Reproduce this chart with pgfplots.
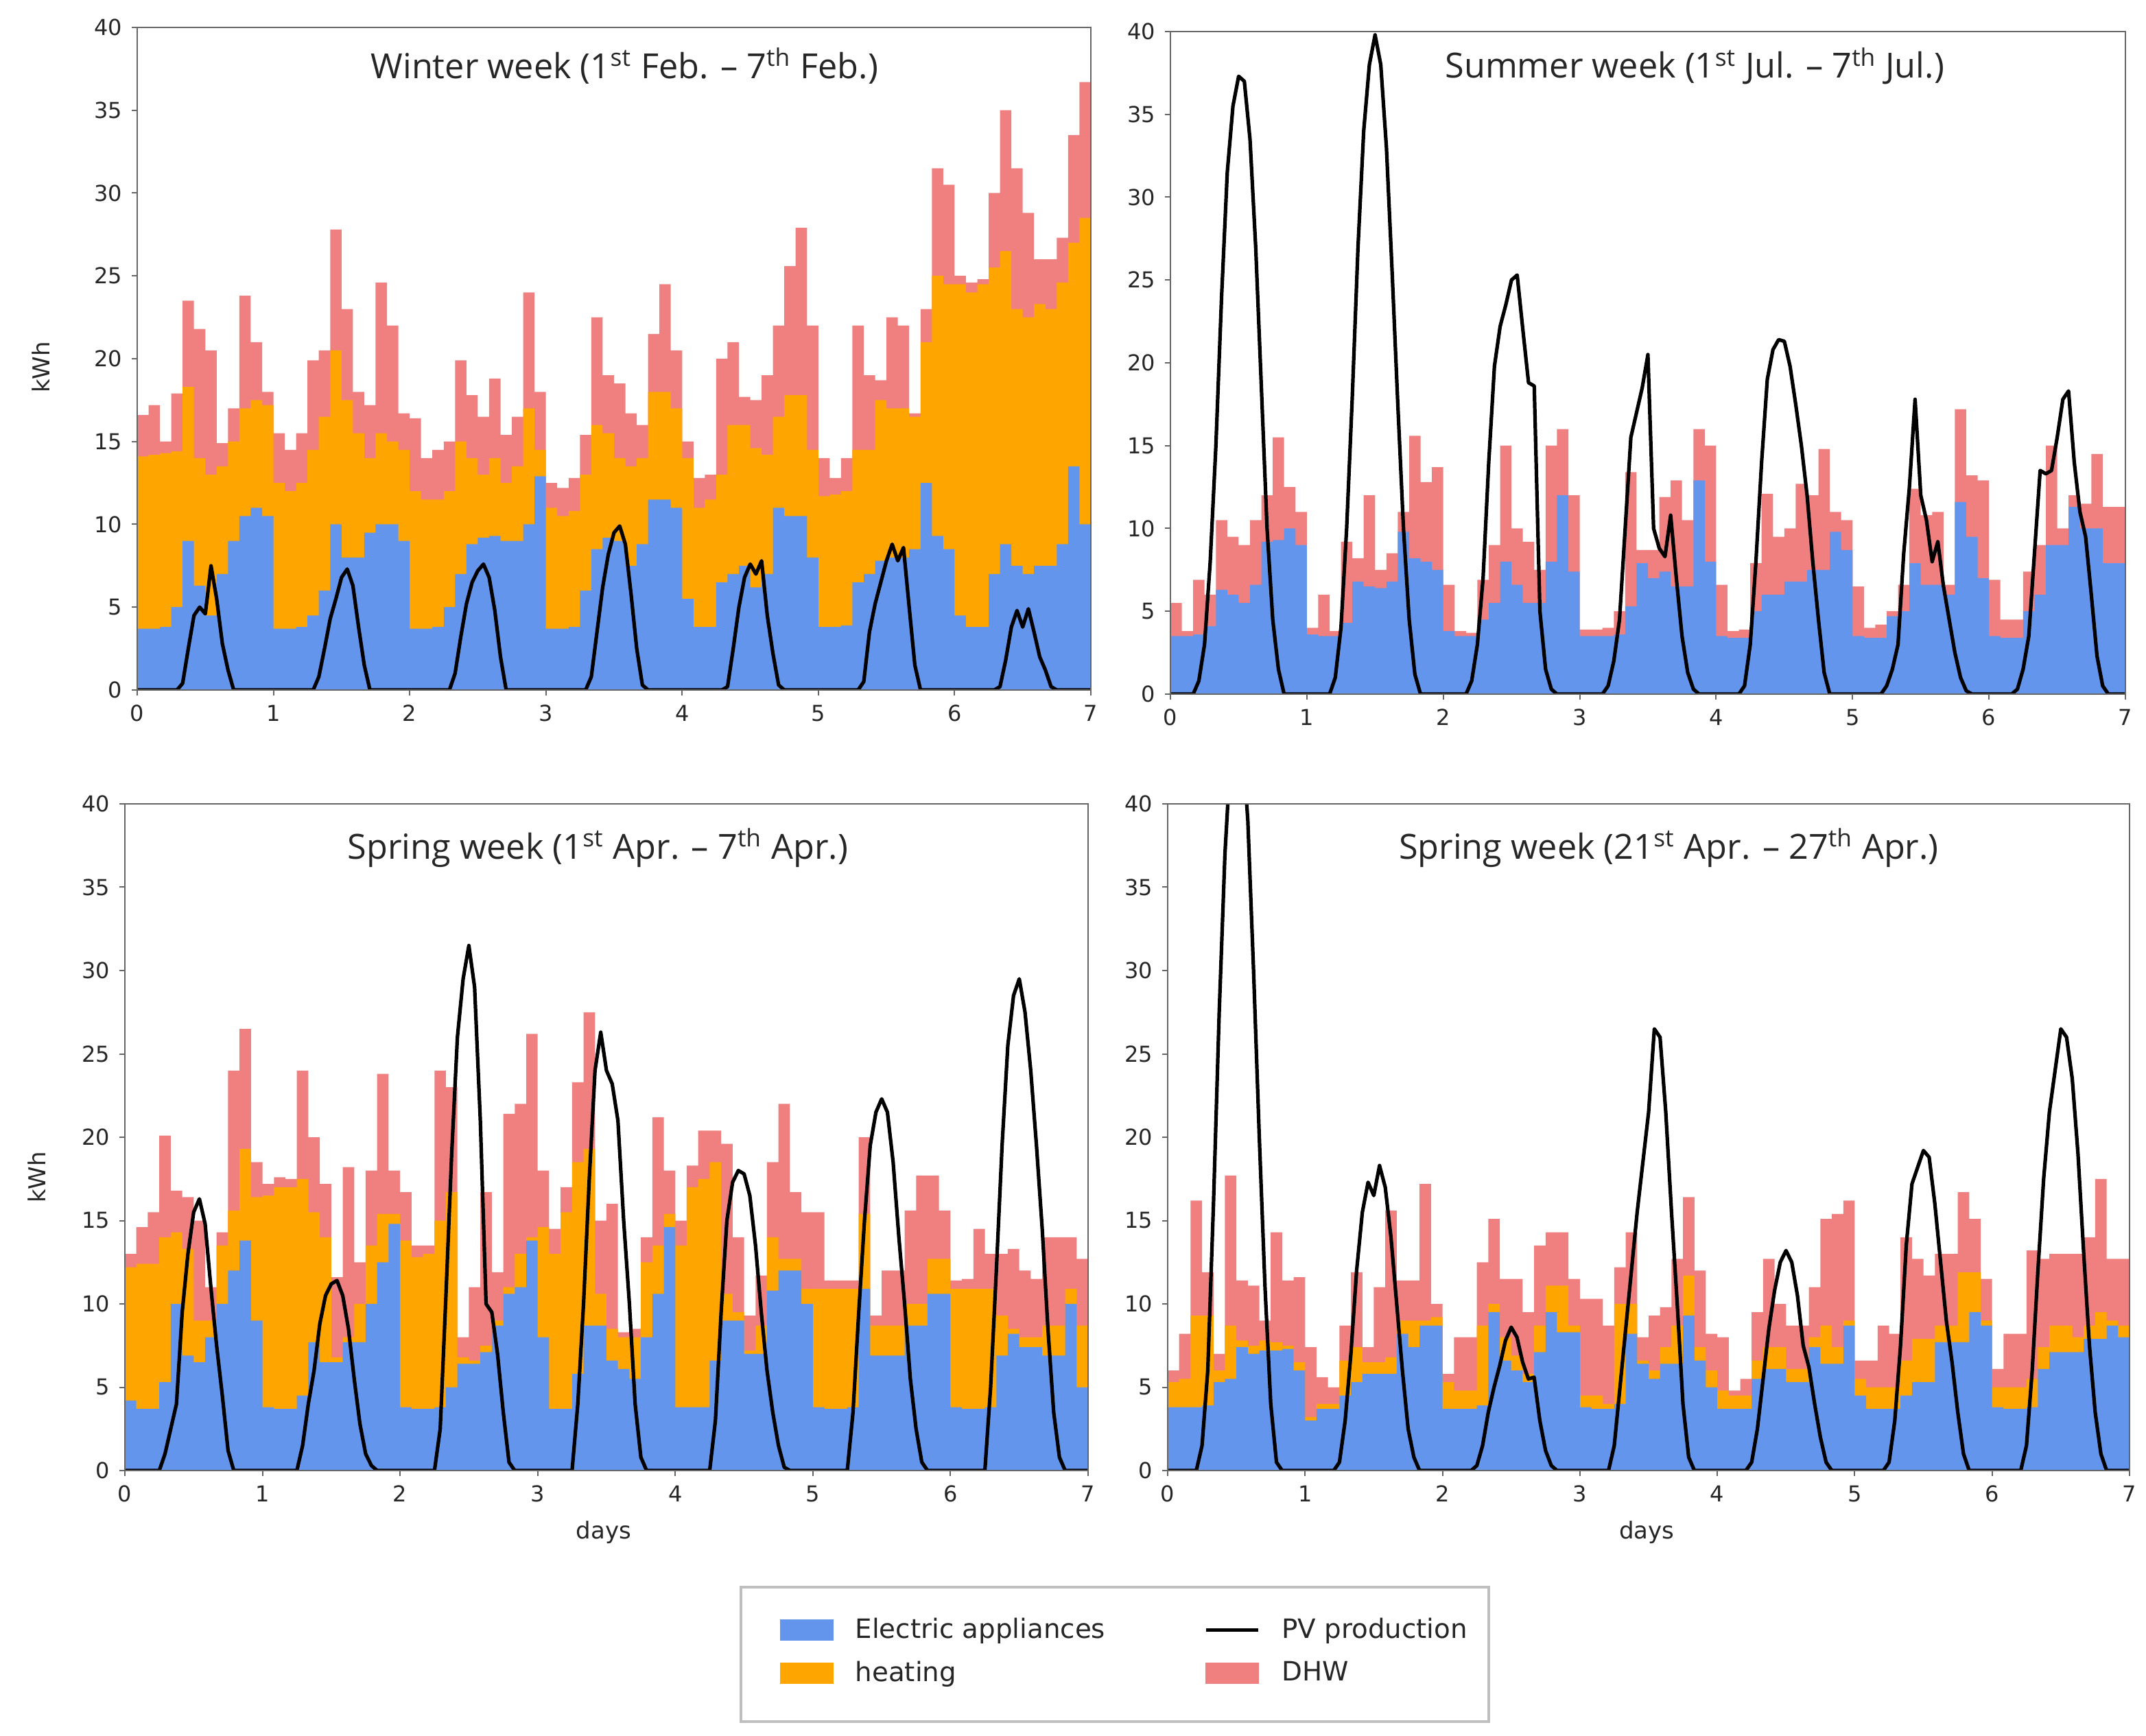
\documentclass[border=0pt]{standalone}
\usepackage{pgfplots}
\pgfplotsset{compat=1.18}
\usepackage{pgfplotstable}
\usepackage{fontspec}
\setmainfont{DejaVu Sans}
\newfontfamily\titlefont{Open Sans}
\definecolor{elec}{HTML}{6495ED}
\definecolor{heat}{HTML}{FFA500}
\definecolor{dhw}{HTML}{F08080}

\pgfplotstableread{
t B O P
0.0000 3.7 14.1 16.6
0.0833 3.7 14.2 17.2
0.1667 3.8 14.3 15.0
0.2500 5.0 14.4 17.9
0.3333 9.0 18.3 23.5
0.4167 6.3 14.0 21.8
0.5000 4.5 13.0 20.5
0.5833 7.0 13.5 14.9
0.6667 9.0 15.0 17.0
0.7500 10.5 17.0 23.8
0.8333 11.0 17.5 21.0
0.9167 10.5 17.2 18.0
1.0000 3.7 12.5 15.5
1.0833 3.7 12.0 14.5
1.1667 3.8 12.5 15.5
1.2500 4.5 14.5 19.9
1.3333 6.0 16.5 20.5
1.4167 10.0 20.5 27.8
1.5000 8.0 17.5 23.0
1.5833 8.0 15.5 18.0
1.6667 9.5 14.0 17.2
1.7500 10.0 15.5 24.6
1.8333 10.0 15.0 22.0
1.9167 9.0 14.5 16.7
2.0000 3.7 12.0 16.4
2.0833 3.7 11.5 14.0
2.1667 3.8 11.5 14.5
2.2500 5.0 12.0 15.0
2.3333 7.0 15.0 19.9
2.4167 8.8 14.0 17.8
2.5000 9.2 13.0 16.5
2.5833 9.3 14.0 18.8
2.6667 9.0 12.5 15.4
2.7500 9.0 13.5 16.5
2.8333 10.0 17.0 24.0
2.9167 12.9 14.5 18.0
3.0000 3.7 11.0 12.5
3.0833 3.7 10.5 12.2
3.1667 3.8 10.8 12.8
3.2500 6.0 13.0 15.4
3.3333 8.5 16.0 22.5
3.4167 9.2 15.5 19.0
3.5000 9.0 14.0 18.5
3.5833 7.5 13.5 16.7
3.6667 8.8 14.0 16.0
3.7500 11.5 18.0 21.5
3.8333 11.5 18.0 24.5
3.9167 11.0 17.0 20.5
4.0000 5.5 14.0 15.0
4.0833 3.8 11.0 12.8
4.1667 3.8 11.5 13.0
4.2500 6.5 13.0 20.0
4.3333 7.0 16.0 21.0
4.4167 7.5 16.0 17.7
4.5000 6.2 14.6 17.5
4.5833 7.0 14.2 19.0
4.6667 11.0 16.5 22.0
4.7500 10.5 17.8 25.6
4.8333 10.5 17.8 27.9
4.9167 8.0 14.5 22.0
5.0000 3.8 11.7 14.0
5.0833 3.8 11.8 12.8
5.1667 3.9 12.0 14.0
5.2500 6.5 14.5 22.0
5.3333 7.0 14.5 19.0
5.4167 7.8 17.5 18.7
5.5000 8.0 17.0 22.5
5.5833 8.0 17.0 22.0
5.6667 8.5 16.5 16.7
5.7500 12.5 21.0 23.0
5.8333 9.3 25.0 31.5
5.9167 8.5 24.5 30.5
6.0000 4.5 24.5 25.0
6.0833 3.8 24.0 24.6
6.1667 3.8 24.5 24.8
6.2500 7.0 25.5 30.0
6.3333 8.8 26.5 35.0
6.4167 7.5 23.0 31.5
6.5000 7.0 22.5 28.8
6.5833 7.5 23.3 26.0
6.6667 7.5 23.0 26.0
6.7500 8.8 24.6 27.3
6.8333 13.5 27.0 33.5
6.9167 10.0 28.5 36.7
7.0000 10.0 28.5 36.7
}\tlData

\pgfplotstableread{
t v
0 0
0.2917 0
0.3333 0.4
0.375 2.5
0.4167 4.5
0.4583 5.0
0.5 4.6
0.5417 7.5
0.5833 5.5
0.625 2.8
0.6667 1.2
0.7083 0
1.2917 0
1.3333 0.8
1.375 2.5
1.4167 4.3
1.4583 5.5
1.5 6.8
1.5417 7.3
1.5833 6.3
1.625 3.8
1.6667 1.5
1.7083 0
2.2917 0
2.3333 1.0
2.375 3.2
2.4167 5.2
2.4583 6.5
2.5 7.2
2.5417 7.6
2.5833 6.8
2.625 4.8
2.6667 2.0
2.7083 0
3.2917 0
3.3333 0.8
3.375 3.5
3.4167 6.2
3.4583 8.2
3.5 9.5
3.5417 9.9
3.5833 8.8
3.625 5.8
3.6667 2.5
3.7083 0.3
3.75 0
4.2917 0
4.3333 0.2
4.375 2.5
4.4167 5.0
4.4583 6.8
4.5 7.6
4.5417 7.0
4.5833 7.8
4.625 4.5
4.6667 2.2
4.7083 0.3
4.75 0
5.2917 0
5.3333 0.5
5.375 3.5
5.4167 5.2
5.4583 6.5
5.5 7.8
5.5417 8.8
5.5833 7.8
5.625 8.6
5.6667 5.0
5.7083 1.5
5.75 0
6.2917 0
6.3333 0.2
6.375 1.8
6.4167 3.8
6.4583 4.8
6.5 3.8
6.5417 4.9
6.5833 3.5
6.625 2.0
6.6667 1.2
6.7083 0.2
6.75 0
7 0
}\tlPV

\pgfplotstableread{
t B P
0.0000 3.5 5.5
0.0833 3.5 3.8
0.1667 3.6 6.9
0.2500 4.1 6.0
0.3333 6.3 10.5
0.4167 6.0 9.5
0.5000 5.5 9.0
0.5833 6.6 10.5
0.6667 9.2 12.0
0.7500 9.3 15.5
0.8333 10.0 12.5
0.9167 9.0 11.0
1.0000 3.6 4.0
1.0833 3.5 6.0
1.1667 3.5 3.8
1.2500 4.3 9.2
1.3333 6.8 8.2
1.4167 6.5 12.0
1.5000 6.4 7.5
1.5833 6.8 8.5
1.6667 9.8 11.0
1.7500 8.2 15.6
1.8333 8.0 12.8
1.9167 7.5 13.7
2.0000 3.8 6.6
2.0833 3.5 3.8
2.1667 3.5 3.7
2.2500 4.5 6.9
2.3333 5.5 9.0
2.4167 8.0 15.0
2.5000 6.6 10.0
2.5833 5.5 9.2
2.6667 5.5 7.5
2.7500 8.0 15.0
2.8333 12.0 16.0
2.9167 7.4 12.0
3.0000 3.5 3.9
3.0833 3.5 3.9
3.1667 3.5 4.0
3.2500 3.6 5.0
3.3333 5.3 13.4
3.4167 7.9 8.7
3.5000 7.0 8.7
3.5833 7.4 11.9
3.6667 6.5 12.9
3.7500 6.5 10.5
3.8333 12.9 16.0
3.9167 8.0 15.0
4.0000 3.5 6.6
4.0833 3.4 3.8
4.1667 3.4 3.9
4.2500 5.0 7.9
4.3333 6.0 12.1
4.4167 6.0 9.5
4.5000 6.8 10.0
4.5833 6.8 12.7
4.6667 7.5 12.0
4.7500 7.5 14.8
4.8333 9.8 11.0
4.9167 8.7 10.5
5.0000 3.5 6.5
5.0833 3.4 4.0
5.1667 3.4 4.2
5.2500 4.7 5.0
5.3333 5.0 6.6
5.4167 7.9 12.4
5.5000 6.6 10.8
5.5833 6.6 11.0
5.6667 6.0 6.6
5.7500 11.6 17.2
5.8333 9.5 13.2
5.9167 7.0 12.9
6.0000 3.5 6.9
6.0833 3.4 4.5
6.1667 3.4 4.5
6.2500 5.0 7.4
6.3333 6.0 9.0
6.4167 9.0 15.0
6.5000 9.0 10.0
6.5833 11.3 12.0
6.6667 10.0 11.5
6.7500 10.0 14.5
6.8333 7.9 11.3
6.9167 7.9 11.3
7.0000 7.9 11.3
}\trData

\pgfplotstableread{
t v
0 0
0.1667 0
0.2083 0.8
0.25 3
0.2917 8
0.3333 15
0.375 24
0.4167 31.5
0.4583 35.5
0.5 37.3
0.5417 37
0.5833 33.5
0.625 27
0.6667 18.5
0.7083 10
0.75 4.5
0.7917 1.5
0.8333 0
1.1667 0
1.2083 1
1.25 4
1.2917 10
1.3333 18
1.375 27
1.4167 34
1.4583 38
1.5 39.8
1.5417 38
1.5833 33
1.625 25.5
1.6667 17.5
1.7083 10
1.75 4.5
1.7917 1.2
1.8333 0
2.1667 0
2.2083 0.8
2.25 3
2.2917 7
2.3333 14
2.375 19.8
2.4167 22.2
2.4583 23.5
2.5 25
2.5417 25.3
2.5833 22
2.625 18.8
2.6667 18.6
2.7083 5
2.75 1.5
2.7917 0.3
2.8333 0
3.1667 0
3.2083 0.5
3.25 2
3.2917 4.5
3.3333 10
3.375 15.5
3.4167 17
3.4583 18.5
3.5 20.5
3.5417 10
3.5833 8.8
3.625 8.3
3.6667 10.8
3.7083 7
3.75 3.5
3.7917 1.3
3.8333 0.3
3.875 0
4.1667 0
4.2083 0.5
4.25 3
4.2917 8
4.3333 14
4.375 19
4.4167 20.8
4.4583 21.4
4.5 21.3
4.5417 19.8
4.5833 17.5
4.625 15
4.6667 12
4.7083 8
4.75 4.5
4.7917 1.3
4.8333 0
5.2083 0
5.25 0.5
5.2917 1.5
5.3333 3
5.375 8.5
5.4167 12.5
5.4583 17.8
5.5 12
5.5417 10.5
5.5833 8
5.625 9.2
5.6667 6.5
5.7083 4.5
5.75 2.5
5.7917 1
5.8333 0.2
5.875 0
6.1667 0
6.2083 0.3
6.25 1.5
6.2917 3.5
6.3333 8.5
6.375 13.5
6.4167 13.3
6.4583 13.5
6.5 15.5
6.5417 17.8
6.5833 18.3
6.625 14
6.6667 11
6.7083 9.5
6.75 6
6.7917 2.3
6.8333 0.5
6.875 0
7 0
}\trPV

\pgfplotstableread{
t B O P
0.0000 4.2 12.2 13.0
0.0833 3.7 12.4 14.6
0.1667 3.7 12.4 15.5
0.2500 5.3 14.0 20.1
0.3333 10.0 14.3 16.8
0.4167 6.9 13.3 16.4
0.5000 6.5 9.0 15.0
0.5833 8.0 9.0 11.0
0.6667 10.0 13.5 14.3
0.7500 12.0 15.6 24.0
0.8333 13.8 19.3 26.5
0.9167 9.0 16.4 18.5
1.0000 3.8 16.5 17.2
1.0833 3.7 17.0 17.6
1.1667 3.7 17.0 17.5
1.2500 4.5 17.5 24.0
1.3333 7.7 15.5 20.0
1.4167 6.5 14.0 17.2
1.5000 6.5 6.8 11.6
1.5833 7.7 8.0 18.2
1.6667 7.7 10.0 12.5
1.7500 10.0 13.5 18.0
1.8333 12.5 15.4 23.8
1.9167 14.8 15.4 18.0
2.0000 3.8 13.8 16.7
2.0833 3.7 12.8 13.5
2.1667 3.7 13.0 13.5
2.2500 3.8 15.0 24.0
2.3333 5.0 16.7 23.0
2.4167 6.4 6.8 8.0
2.5000 6.4 6.6 11.0
2.5833 7.1 7.5 16.7
2.6667 8.7 9.0 11.9
2.7500 10.6 11.0 21.4
2.8333 11.0 13.0 22.0
2.9167 13.8 14.0 26.2
3.0000 8.0 14.6 18.0
3.0833 3.7 13.0 14.5
3.1667 3.7 15.5 17.0
3.2500 5.8 18.5 23.3
3.3333 8.7 19.3 27.5
3.4167 8.7 10.6 15.0
3.5000 6.6 8.5 16.0
3.5833 6.1 8.0 8.3
3.6667 5.5 8.0 8.5
3.7500 8.0 12.5 14.0
3.8333 10.6 13.5 21.2
3.9167 14.6 15.4 18.0
4.0000 3.8 13.5 15.0
4.0833 3.8 17.0 18.3
4.1667 3.8 17.5 20.4
4.2500 6.6 18.5 20.4
4.3333 9.0 10.6 19.6
4.4167 9.0 9.5 14.0
4.5000 7.0 7.2 9.3
4.5833 7.0 8.7 11.7
4.6667 10.8 14.0 18.5
4.7500 12.0 12.7 22.0
4.8333 12.0 12.7 16.7
4.9167 10.0 10.9 15.5
5.0000 3.8 10.9 15.5
5.0833 3.7 10.9 11.4
5.1667 3.7 10.9 11.4
5.2500 3.8 10.9 11.4
5.3333 10.9 15.4 20.0
5.4167 6.9 8.7 9.3
5.5000 6.9 8.7 12.0
5.5833 6.9 8.7 12.0
5.6667 8.7 10.0 15.6
5.7500 8.7 10.0 17.7
5.8333 10.6 12.7 17.7
5.9167 10.6 12.7 15.6
6.0000 3.8 10.9 11.4
6.0833 3.7 10.9 11.5
6.1667 3.7 10.9 14.5
6.2500 3.8 10.9 13.0
6.3333 6.9 9.3 13.0
6.4167 8.2 8.5 13.3
6.5000 7.4 8.0 12.0
6.5833 7.4 8.0 11.5
6.6667 6.9 8.7 14.0
6.7500 6.9 8.7 14.0
6.8333 10.0 10.9 14.0
6.9167 5.0 8.7 12.7
7.0000 5.0 8.7 12.7
}\blData

\pgfplotstableread{
t v
0 0
0.25 0
0.2917 1.0
0.3333 2.5
0.375 4.0
0.4167 9.5
0.4583 13.0
0.5 15.5
0.5417 16.3
0.5833 14.8
0.625 11.0
0.6667 7.5
0.7083 4.5
0.75 1.2
0.7917 0
1.25 0
1.2917 1.5
1.3333 4.0
1.375 6.0
1.4167 8.8
1.4583 10.5
1.5 11.2
1.5417 11.4
1.5833 10.5
1.625 8.5
1.6667 5.5
1.7083 2.8
1.75 1.0
1.7917 0.3
1.8333 0
2.25 0
2.2917 2.5
2.3333 10.5
2.375 19
2.4167 26
2.4583 29.5
2.5 31.5
2.5417 29
2.5833 21
2.625 10.0
2.6667 9.5
2.7083 7.0
2.75 3.5
2.7917 0.5
2.8333 0
3.25 0
3.2917 4
3.3333 10
3.375 17.5
3.4167 24
3.4583 26.3
3.5 24
3.5417 23.2
3.5833 21
3.625 15
3.6667 10
3.7083 4
3.75 0.8
3.7917 0
4.25 0
4.2917 3
4.3333 9.5
4.375 15
4.4167 17.3
4.4583 18
4.5 17.8
4.5417 16.5
4.5833 13.5
4.625 9.5
4.6667 6.0
4.7083 3.5
4.75 1.5
4.7917 0.2
4.8333 0
5.25 0
5.2917 3.5
5.3333 9.5
5.375 15
5.4167 19.5
5.4583 21.5
5.5 22.3
5.5417 21.5
5.5833 18.5
5.625 14
5.6667 10
5.7083 5.5
5.75 2.5
5.7917 0.5
5.8333 0
6.25 0
6.2917 5
6.3333 12
6.375 19.5
6.4167 25.5
6.4583 28.5
6.5 29.5
6.5417 27.5
6.5833 24
6.625 19.5
6.6667 14.5
6.7083 8.5
6.75 3.5
6.7917 0.8
6.8333 0
7 0
}\blPV

\pgfplotstableread{
t B O P
0.0000 3.8 5.3 6.0
0.0833 3.8 5.5 8.2
0.1667 3.8 9.3 16.2
0.2500 3.9 9.3 11.9
0.3333 5.3 6.0 7.0
0.4167 5.5 8.7 17.7
0.5000 7.4 7.8 11.4
0.5833 7.0 7.5 11.1
0.6667 7.2 7.8 9.0
0.7500 7.2 7.7 14.3
0.8333 7.3 7.5 11.4
0.9167 6.0 6.5 11.6
1.0000 3.0 3.2 7.4
1.0833 3.7 4.0 5.6
1.1667 3.7 4.0 5.0
1.2500 4.5 6.6 8.7
1.3333 5.3 7.4 11.9
1.4167 5.8 6.5 7.4
1.5000 5.8 6.5 11.0
1.5833 5.8 6.8 15.6
1.6667 8.2 9.0 11.4
1.7500 7.4 9.0 11.4
1.8333 8.7 9.0 17.2
1.9167 8.7 9.2 10.0
2.0000 3.7 5.3 5.8
2.0833 3.7 4.8 8.0
2.1667 3.7 4.8 8.0
2.2500 3.9 8.7 12.5
2.3333 9.5 10.0 15.1
2.4167 6.6 8.0 11.5
2.5000 6.0 6.9 11.5
2.5833 5.3 5.8 9.5
2.6667 7.1 8.7 13.5
2.7500 9.5 11.1 14.3
2.8333 8.3 11.1 14.3
2.9167 8.3 8.7 11.5
3.0000 3.8 4.5 10.3
3.0833 3.7 4.5 10.3
3.1667 3.7 4.0 8.7
3.2500 4.0 10.0 12.2
3.3333 8.2 10.0 14.3
3.4167 6.4 6.6 8.0
3.5000 5.5 6.0 9.3
3.5833 6.4 7.4 9.8
3.6667 6.4 8.7 12.7
3.7500 9.3 11.7 16.4
3.8333 6.6 7.4 12.0
3.9167 5.0 6.0 8.2
4.0000 3.7 4.8 8.0
4.0833 3.7 4.5 4.8
4.1667 3.7 4.5 5.5
4.2500 5.5 6.6 9.5
4.3333 6.1 7.4 12.7
4.4167 6.1 7.4 10.0
4.5000 5.3 6.1 8.7
4.5833 5.3 6.1 8.7
4.6667 7.4 8.0 11.0
4.7500 6.4 8.7 15.1
4.8333 6.4 7.4 15.4
4.9167 8.7 9.0 16.2
5.0000 4.5 5.5 6.6
5.0833 3.7 5.0 6.6
5.1667 3.7 5.0 8.7
5.2500 3.7 5.0 8.2
5.3333 4.5 6.6 14.0
5.4167 5.3 7.9 12.7
5.5000 5.3 7.9 11.7
5.5833 7.7 8.7 13.0
5.6667 7.7 8.7 13.0
5.7500 7.7 11.9 16.7
5.8333 9.5 11.9 15.1
5.9167 8.7 9.0 11.5
6.0000 3.8 5.0 6.1
6.0833 3.7 5.0 8.2
6.1667 3.7 5.0 8.2
6.2500 3.8 5.5 13.2
6.3333 6.1 7.4 12.7
6.4167 7.1 8.7 13.0
6.5000 7.1 8.7 13.0
6.5833 7.1 8.0 13.0
6.6667 7.9 8.7 14.0
6.7500 7.9 9.5 17.5
6.8333 8.7 9.0 12.7
6.9167 8.0 8.7 12.7
7.0000 8.0 8.7 12.7
}\brData

\pgfplotstableread{
t v
0 0
0.2083 0
0.25 1.5
0.2917 6
0.3333 16
0.375 27.5
0.4167 37
0.4583 43
0.5 46
0.5417 44
0.5833 39
0.625 30
0.6667 20
0.7083 11
0.75 4
0.7917 0.5
0.8333 0
1.2083 0
1.25 0.5
1.2917 3
1.3333 7
1.375 12
1.4167 15.5
1.4583 17.3
1.5 16.5
1.5417 18.3
1.5833 17
1.625 14
1.6667 10
1.7083 6
1.75 2.5
1.7917 0.8
1.8333 0
2.2083 0
2.25 0.3
2.2917 1.5
2.3333 3.5
2.375 5.0
2.4167 6.3
2.4583 7.8
2.5 8.6
2.5417 8.0
2.5833 6.5
2.625 5.5
2.6667 5.6
2.7083 3.0
2.75 1.2
2.7917 0.3
2.8333 0
3.2083 0
3.25 1.5
3.2917 5
3.3333 8.5
3.375 12
3.4167 15.5
3.4583 18.5
3.5 21.5
3.5417 26.5
3.5833 26.0
3.625 21.5
3.6667 15.5
3.7083 10
3.75 4
3.7917 0.8
3.8333 0
4.2083 0
4.25 0.5
4.2917 2.5
4.3333 5.5
4.375 8.5
4.4167 10.8
4.4583 12.5
4.5 13.2
4.5417 12.5
4.5833 10.5
4.625 7.5
4.6667 6.2
4.7083 4.0
4.75 2.0
4.7917 0.5
4.8333 0
5.2083 0
5.25 0.5
5.2917 3
5.3333 7.5
5.375 13.5
5.4167 17.2
5.4583 18.2
5.5 19.2
5.5417 18.8
5.5833 16
5.625 12.5
5.6667 9.0
5.7083 6.5
5.75 3.5
5.7917 1.0
5.8333 0
6.2083 0
6.25 1.5
6.2917 6
6.3333 12
6.375 17.5
6.4167 21.5
6.4583 24
6.5 26.5
6.5417 26
6.5833 23.5
6.625 19
6.6667 13
6.7083 7.5
6.75 3.5
6.7917 1.0
6.8333 0
7 0
}\brPV

\tikzset{
  ttl/.style={font=\titlefont\fontsize{12.6}{15}\selectfont, text=black!85, anchor=center},
  pv/.style={black, line width=1.3pt, line join=round},
}
\pgfplotsset{
  panel/.style={
    scale only axis, anchor=south west,
    xmin=0, xmax=7, ymin=0, ymax=40,
    xtick={0,1,...,7}, ytick={0,5,...,40},
    tick align=outside, tick pos=left,
    major tick length=2pt,
    axis line style={black!60, line width=0.6pt},
    every tick/.style={black!60, line width=0.5pt},
    tick label style={font=\fontsize{8}{9}\selectfont, text=black!85},
    /pgf/number format/assume math mode=true,
    axis on top,
    label style={font=\fontsize{8.5}{10}\selectfont, text=black!85},
  },
}

\begin{document}
\begin{tikzpicture}
\path[use as bounding box] (0pt,0pt) rectangle (782pt,632.5pt);

% Winter
\begin{axis}[panel, at={(50pt,381pt)}, width=347.5pt, height=241.5pt,
  ylabel={kWh}, ylabel style={at={(axis description cs:-0.1007,0.487)}, anchor=center}]
\addplot[const plot, fill=dhw, draw=none] table[x=t,y=P]{\tlData} \closedcycle;
\addplot[const plot, fill=heat, draw=none] table[x=t,y=O]{\tlData} \closedcycle;
\addplot[const plot, fill=elec, draw=none] table[x=t,y=B]{\tlData} \closedcycle;
\addplot[pv] table[x=t,y=v]{\tlPV};
\node[ttl] at (rel axis cs:0.511,0.942) {Winter week (1\textsuperscript{st} Feb. – 7\textsuperscript{th} Feb.)};
\end{axis}

% Summer
\begin{axis}[panel, at={(426.5pt,379.5pt)}, width=348pt, height=241.5pt]
\addplot[const plot, fill=dhw, draw=none] table[x=t,y=P]{\trData} \closedcycle;
\addplot[const plot, fill=elec, draw=none] table[x=t,y=B]{\trData} \closedcycle;
\addplot[pv] table[x=t,y=v]{\trPV};
\node[ttl] at (rel axis cs:0.549,0.948) {Summer week (1\textsuperscript{st} Jul. – 7\textsuperscript{th} Jul.)};
\end{axis}

% Spring 1
\begin{axis}[panel, at={(45.5pt,96.5pt)}, width=351pt, height=243pt,
  ylabel={kWh}, ylabel style={at={(axis description cs:-0.0912,0.44)}, anchor=center},
  xlabel={days}, xlabel style={at={(axis description cs:0.497,-0.0926)}, anchor=center}]
\addplot[const plot, fill=dhw, draw=none] table[x=t,y=P]{\blData} \closedcycle;
\addplot[const plot, fill=heat, draw=none] table[x=t,y=O]{\blData} \closedcycle;
\addplot[const plot, fill=elec, draw=none] table[x=t,y=B]{\blData} \closedcycle;
\addplot[pv] table[x=t,y=v]{\blPV};
\node[ttl] at (rel axis cs:0.491,0.934) {Spring week (1\textsuperscript{st} Apr. – 7\textsuperscript{th} Apr.)};
\end{axis}

% Spring 2
\begin{axis}[panel, at={(425.5pt,96.5pt)}, width=350.5pt, height=243pt,
  xlabel={days}, xlabel style={at={(axis description cs:0.498,-0.0926)}, anchor=center}]
\addplot[const plot, fill=dhw, draw=none] table[x=t,y=P]{\brData} \closedcycle;
\addplot[const plot, fill=heat, draw=none] table[x=t,y=O]{\brData} \closedcycle;
\addplot[const plot, fill=elec, draw=none] table[x=t,y=B]{\brData} \closedcycle;
\addplot[pv] table[x=t,y=v]{\brPV};
\node[ttl] at (rel axis cs:0.521,0.934) {Spring week (21\textsuperscript{st} Apr. – 27\textsuperscript{th} Apr.)};
\end{axis}

% legend
\draw[black!25, line width=0.8pt] (270pt,5pt) rectangle (542.5pt,54pt);
\begin{axis}[hide axis, scale only axis, width=10pt, height=10pt,
  at={(410.5pt,30.5pt)}, anchor=center, xmin=0, xmax=1, ymin=0, ymax=1,
  legend columns=2,
  legend style={at={(0.5,0.5)}, anchor=center, draw=none, fill=none,
    font=\fontsize{9.7}{11}\selectfont, text=black!85,
    /tikz/every odd column/.append style={column sep=6pt},
    /tikz/every even column/.append style={column sep=34pt},
    row sep=3pt, cells={anchor=west}}]
\addlegendimage{legend image code/.code={\fill[elec] (0pt,-3.7pt) rectangle (19pt,3.7pt);}}
\addlegendentry{Electric appliances}
\addlegendimage{legend image code/.code={\draw[black, line width=1.3pt] (0pt,0pt) -- (19pt,0pt);}}
\addlegendentry{PV production}
\addlegendimage{legend image code/.code={\fill[heat] (0pt,-3.7pt) rectangle (19pt,3.7pt);}}
\addlegendentry{heating}
\addlegendimage{legend image code/.code={\fill[dhw] (0pt,-3.7pt) rectangle (19pt,3.7pt);}}
\addlegendentry{DHW}
\end{axis}
\end{tikzpicture}
\end{document}
